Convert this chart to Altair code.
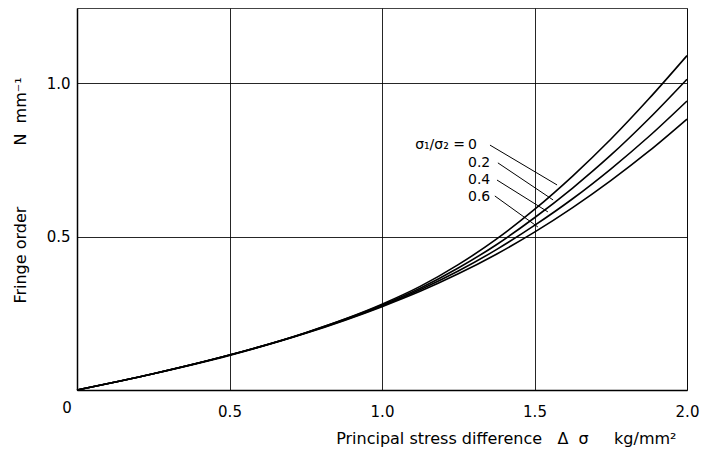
import altair as alt
import pandas as pd

# ---- data ----
x_vals = [0, 0.25, 0.5, 0.75, 1.0, 1.125, 1.25, 1.375, 1.5, 1.625, 1.75, 1.875, 2.0]
ratio_0 = [0, 0.053, 0.114, 0.187, 0.280, 0.338, 0.409, 0.492, 0.589, 0.698, 0.818, 0.950, 1.091]
ratio_02 = [0, 0.053, 0.114, 0.187, 0.277, 0.332, 0.398, 0.474, 0.562, 0.659, 0.766, 0.885, 1.014]
ratio_04 = [0, 0.053, 0.114, 0.186, 0.274, 0.327, 0.388, 0.458, 0.537, 0.624, 0.721, 0.827, 0.943]
ratio_06 = [0, 0.053, 0.113, 0.185, 0.272, 0.322, 0.379, 0.443, 0.515, 0.595, 0.683, 0.779, 0.884]
series_names = ["0", "0.2", "0.4", "0.6"]

label_x = [1.282, 1.282, 1.282, 1.282]
label_y = [0.799, 0.742, 0.685, 0.631]
leader_x1 = [1.354, 1.380, 1.377, 1.370]
leader_y1 = [0.799, 0.741, 0.685, 0.633]
leader_x2 = [1.574, 1.561, 1.544, 1.511]
leader_y2 = [0.669, 0.620, 0.581, 0.532]

x_ticks = [0.5, 1.0, 1.5, 2.0]
y_ticks = [0.5, 1.0]

FONT = "DejaVu Sans"
NB = "\u00a0"
x_title = "Principal stress difference" + NB * 3 + "Δ" + NB * 2 + "σ" + NB * 5 + "kg/mm²"
y_title = "Fringe order" + NB * 12 + "N" + NB * 2 + "mm⁻¹"

rows = []
for name, ys in zip(series_names, [ratio_0, ratio_02, ratio_04, ratio_06]):
    for xv, yv in zip(x_vals, ys):
        rows.append({"x": xv, "y": yv, "series": name})
df = pd.DataFrame(rows)

lab = pd.DataFrame({"x": label_x, "y": label_y, "text": series_names,
                    "x1": leader_x1, "y1": leader_y1, "x2": leader_x2, "y2": leader_y2})

xscale = alt.Scale(domain=[0, 2.0], nice=False, zero=False)
yscale = alt.Scale(domain=[0, 1.2463], nice=False, zero=False)

xaxis = alt.Axis(values=x_ticks, format=".1f", grid=True, gridColor="black", gridWidth=1,
                 gridOpacity=0.85, ticks=False, domain=True, domainColor="black", domainWidth=1.5,
                 labelFont=FONT, labelFontSize=15, labelColor="black", labelPadding=14,
                 labelFlush=False,
                 title=x_title, titleFont=FONT, titleFontSize=16, titleFontWeight="normal",
                 titleColor="black", titleX=599, titleAlign="right",
                 titleY=48, titleBaseline="middle")
yaxis = alt.Axis(values=y_ticks, format=".1f", grid=True, gridColor="black", gridWidth=1,
                 gridOpacity=0.85, ticks=False, domain=True, domainColor="black", domainWidth=1.5,
                 labelFont=FONT, labelFontSize=15, labelColor="black", labelPadding=7,
                 labelFlush=False,
                 title=y_title, titleFont=FONT, titleFontSize=16, titleFontWeight="normal",
                 titleColor="black", titleX=-57, titleY=182, titleAlign="center",
                 titleBaseline="middle")

lines = alt.Chart(df).mark_line(color="black", strokeWidth=1.6, interpolate="monotone").encode(
    x=alt.X("x:Q", scale=xscale, axis=xaxis),
    y=alt.Y("y:Q", scale=yscale, axis=yaxis),
    detail="series:N",
)

leaders = alt.Chart(lab).mark_rule(color="black", strokeWidth=1).encode(
    x=alt.X("x1:Q", scale=xscale), y=alt.Y("y1:Q", scale=yscale),
    x2="x2:Q", y2="y2:Q",
)

nums = alt.Chart(lab).mark_text(align="left", baseline="middle", font=FONT, fontSize=14,
                                color="black").encode(
    x=alt.X("x:Q", scale=xscale), y=alt.Y("y:Q", scale=yscale), text="text:N",
)

prefix = alt.Chart(lab.iloc[[0]]).mark_text(align="right", baseline="middle", font=FONT,
                                            fontSize=14, color="black", dx=-3).encode(
    x=alt.X("x:Q", scale=xscale), y=alt.Y("y:Q", scale=yscale),
    text=alt.value("σ₁/σ₂ ="),
)

origin = alt.Chart(pd.DataFrame({"x": [0], "y": [0], "t": ["0"]})).mark_text(
    align="center", baseline="middle", font=FONT, fontSize=15, color="black", dx=-10, dy=18
).encode(x=alt.X("x:Q", scale=xscale), y=alt.Y("y:Q", scale=yscale), text="t:N")

chart = alt.layer(lines, leaders, nums, prefix, origin).properties(
    width=610, height=382,
    autosize=alt.AutoSizeParams(type="none"),
    padding={"left": 77, "top": 8, "right": 14, "bottom": 73},
    background="white",
).configure_view(stroke="#444", strokeWidth=1)

chart.save("out.html", embed_options={"renderer": "svg", "actions": False})
